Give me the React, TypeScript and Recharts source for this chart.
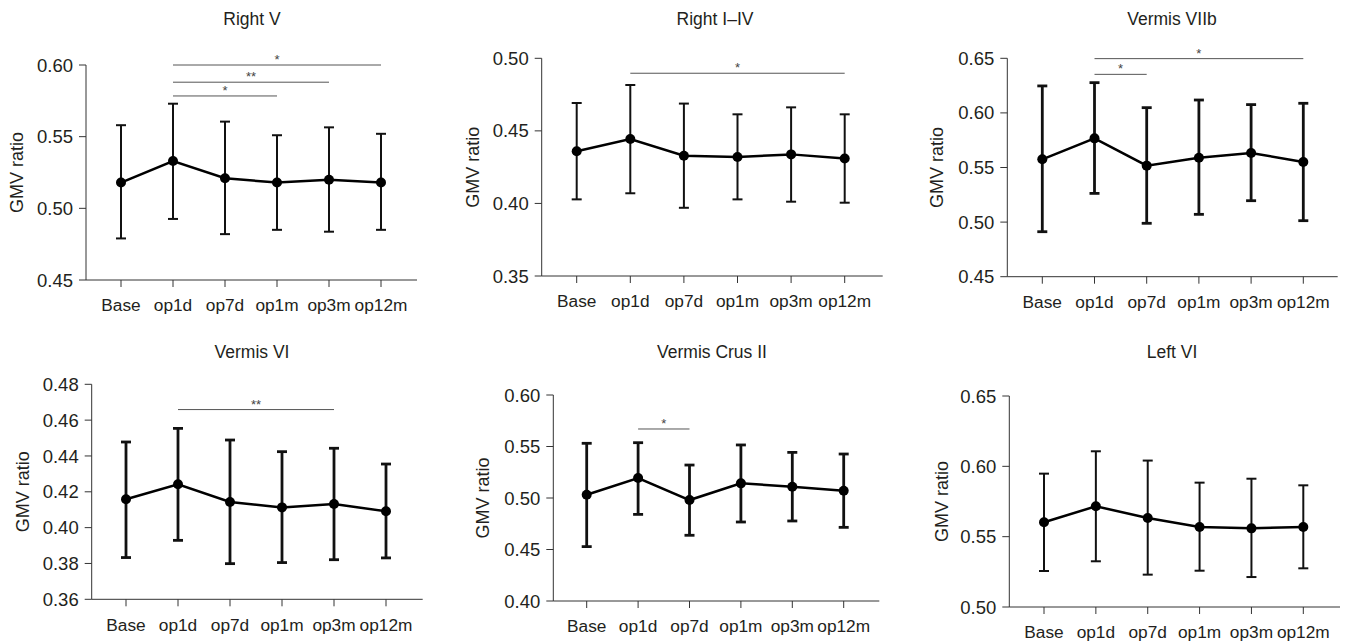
import { LineChart, Line, XAxis, YAxis, ErrorBar, ReferenceLine } from 'recharts';

const timepoints = ['Base', 'op1d', 'op7d', 'op1m', 'op3m', 'op12m'];

// Right V
const rightVMean = [0.518, 0.533, 0.521, 0.518, 0.52, 0.518];
const rightVHigh = [0.558, 0.573, 0.5605, 0.551, 0.5565, 0.552];
const rightVLow = [0.479, 0.4926, 0.482, 0.485, 0.4837, 0.485];
const rightVTicks = [0.45, 0.5, 0.55, 0.6];
const rightVSig = [
  { from: 'op1d', to: 'op12m', y: 0.6, mark: '*' },
  { from: 'op1d', to: 'op3m', y: 0.588, mark: '**' },
  { from: 'op1d', to: 'op1m', y: 0.5784, mark: '*' },
];

// Right I–IV
const rightIMean = [0.436, 0.4444, 0.4329, 0.432, 0.4338, 0.4309];
const rightIHigh = [0.4692, 0.4816, 0.4688, 0.4614, 0.4662, 0.4614];
const rightILow = [0.4028, 0.407, 0.397, 0.4028, 0.4012, 0.4005];
const rightITicks = [0.35, 0.4, 0.45, 0.5];
const rightISig = [{ from: 'op1d', to: 'op12m', y: 0.4897, mark: '*' }];

// Vermis VIIb
const vermisVIIbMean = [0.5575, 0.5767, 0.5517, 0.559, 0.5633, 0.555];
const vermisVIIbHigh = [0.6247, 0.6277, 0.6048, 0.6118, 0.6076, 0.6088];
const vermisVIIbLow = [0.4912, 0.5263, 0.4989, 0.5071, 0.5196, 0.5013];
const vermisVIIbTicks = [0.45, 0.5, 0.55, 0.6, 0.65];
const vermisVIIbSig = [
  { from: 'op1d', to: 'op12m', y: 0.6497, mark: '*' },
  { from: 'op1d', to: 'op7d', y: 0.6353, mark: '*' },
];

// Vermis VI
const vermisVIMean = [0.4158, 0.4242, 0.4143, 0.4113, 0.4132, 0.4091];
const vermisVIHigh = [0.4478, 0.4554, 0.4489, 0.4424, 0.4443, 0.4355];
const vermisVILow = [0.3833, 0.3929, 0.3799, 0.3805, 0.3821, 0.3831];
const vermisVITicks = [0.36, 0.38, 0.4, 0.42, 0.44, 0.46, 0.48];
const vermisVISig = [{ from: 'op1d', to: 'op3m', y: 0.4659, mark: '**' }];

// Vermis Crus II
const crusIIMean = [0.5032, 0.5194, 0.498, 0.5142, 0.511, 0.5071];
const crusIIHigh = [0.5531, 0.5537, 0.532, 0.5515, 0.5443, 0.5427];
const crusIILow = [0.4528, 0.4841, 0.4638, 0.4767, 0.4777, 0.4715];
const crusIITicks = [0.4, 0.45, 0.5, 0.55, 0.6];
const crusIISig = [{ from: 'op1d', to: 'op7d', y: 0.567, mark: '*' }];

// Left VI
const leftVIMean = [0.5602, 0.5716, 0.5633, 0.5569, 0.5559, 0.5569];
const leftVIHigh = [0.5948, 0.6107, 0.6041, 0.5884, 0.5912, 0.5865];
const leftVILow = [0.5256, 0.5325, 0.523, 0.5258, 0.5213, 0.5275];
const leftVITicks = [0.5, 0.55, 0.6, 0.65];
const leftVISig: { from: string; to: string; y: number; mark: string }[] = [];

const FONT = '"Liberation Sans", Arial, Helvetica, sans-serif';
const TEXT = '#231f20';
const AXIS = '#333';

type Sig = { from: string; to: string; y: number; mark: string };

interface PanelProps {
  title: string;
  mean: number[];
  high: number[];
  low: number[];
  ticks: number[];
  sig: Sig[];
  box: { x: number; y: number; w: number; h: number };
  plot: { left: number; right: number; top: number; bottom: number };
  pad: [number, number];
  labelX: number;
  titleX: number;
  titleY: number;
  barStroke: number;
}

function Panel(p: PanelProps) {
  const data = timepoints.map((t, i) => ({
    t,
    mean: p.mean[i],
    err: [p.mean[i] - p.low[i], p.high[i] - p.mean[i]],
  }));
  const marginLeft = p.labelX - p.box.x - 5;
  const yWidth = p.plot.left - p.box.x - marginLeft;
  const margin = {
    top: p.plot.top - p.box.y,
    right: p.box.x + p.box.w - p.plot.right,
    bottom: 0,
    left: marginLeft,
  };
  const xHeight = p.box.h - (p.plot.bottom - p.box.y);
  const domain = [p.ticks[0], p.ticks[p.ticks.length - 1]];

  return (
    <div style={{ position: 'absolute', left: p.box.x, top: p.box.y, width: p.box.w, height: p.box.h }}>
      <div
        style={{
          position: 'absolute',
          left: p.titleX - p.box.x,
          top: p.titleY - p.box.y,
          transform: 'translate(-50%, -50%)',
          fontFamily: FONT,
          fontSize: 17.5,
          lineHeight: 1,
          color: TEXT,
          whiteSpace: 'nowrap',
        }}
      >
        {p.title}
      </div>
      <LineChart width={p.box.w} height={p.box.h} data={data} margin={margin}>
        <XAxis
          dataKey="t"
          height={xHeight}
          padding={{ left: p.pad[0], right: p.pad[1] }}
          tickSize={7}
          tickMargin={12}
          stroke={AXIS}
          tick={{ fill: TEXT, fontSize: 17.3, fontFamily: FONT }}
          interval={0}
        />
        <YAxis
          width={yWidth}
          domain={domain}
          ticks={p.ticks}
          type="number"
          tickSize={7}
          tickMargin={6}
          stroke={AXIS}
          tickFormatter={(v: number) => v.toFixed(2)}
          tick={{ fill: TEXT, fontSize: 18.5, fontFamily: FONT }}
          label={{
            value: 'GMV ratio',
            angle: -90,
            position: 'insideLeft',
            offset: 5,
            style: { textAnchor: 'middle', fill: TEXT, fontSize: 18, fontFamily: FONT },
          }}
        />
        {p.sig.map((s, i) => (
          <ReferenceLine
            key={i}
            segment={[
              { x: s.from, y: s.y },
              { x: s.to, y: s.y },
            ]}
            stroke="#555"
            strokeWidth={1}
            ifOverflow="visible"
            label={{ value: s.mark, position: 'top', offset: 1, fill: '#444', fontSize: 13, fontFamily: FONT }}
          />
        ))}
        <Line
          dataKey="mean"
          stroke="#000"
          strokeWidth={2.5}
          dot={{ r: 5, fill: '#000', stroke: '#000', strokeWidth: 0 }}
          isAnimationActive={false}
        >
          <ErrorBar dataKey="err" direction="y" width={5} stroke="#111" strokeWidth={p.barStroke} isAnimationActive={false} />
        </Line>
      </LineChart>
    </div>
  );
}

export default function App() {
  return (
    <div style={{ position: 'absolute', left: 0, top: 0, width: 1349, height: 643, background: '#fff' }}>
      <Panel
        title="Right V"
        mean={rightVMean}
        high={rightVHigh}
        low={rightVLow}
        ticks={rightVTicks}
        sig={rightVSig}
        box={{ x: 0, y: 0, w: 450, h: 320 }}
        plot={{ left: 86, right: 417, top: 65, bottom: 280 }}
        pad={[35, 36]}
        labelX={17}
        titleX={252}
        titleY={20}
        barStroke={2}
      />
      <Panel
        title="Right I–IV"
        mean={rightIMean}
        high={rightIHigh}
        low={rightILow}
        ticks={rightITicks}
        sig={rightISig}
        box={{ x: 450, y: 0, w: 450, h: 320 }}
        plot={{ left: 541.7, right: 882.7, top: 58.3, bottom: 276 }}
        pad={[35, 38]}
        labelX={472.7}
        titleX={715}
        titleY={20}
        barStroke={2}
      />
      <Panel
        title="Vermis VIIb"
        mean={vermisVIIbMean}
        high={vermisVIIbHigh}
        low={vermisVIIbLow}
        ticks={vermisVIIbTicks}
        sig={vermisVIIbSig}
        box={{ x: 900, y: 0, w: 449, h: 320 }}
        plot={{ left: 1007.3, right: 1337.7, top: 58.3, bottom: 276.7 }}
        pad={[35, 34.4]}
        labelX={936.7}
        titleX={1172}
        titleY={20}
        barStroke={2.8}
      />
      <Panel
        title="Vermis VI"
        mean={vermisVIMean}
        high={vermisVIHigh}
        low={vermisVILow}
        ticks={vermisVITicks}
        sig={vermisVISig}
        box={{ x: 0, y: 320, w: 450, h: 323 }}
        plot={{ left: 91.7, right: 422.7, top: 384.3, bottom: 599.3 }}
        pad={[34.3, 36.7]}
        labelX={23}
        titleX={252}
        titleY={353}
        barStroke={2.8}
      />
      <Panel
        title="Vermis Crus II"
        mean={crusIIMean}
        high={crusIIHigh}
        low={crusIILow}
        ticks={crusIITicks}
        sig={crusIISig}
        box={{ x: 450, y: 320, w: 450, h: 323 }}
        plot={{ left: 553.3, right: 879.3, top: 395, bottom: 601 }}
        pad={[33.4, 35.6]}
        labelX={483}
        titleX={712}
        titleY={353}
        barStroke={2.8}
      />
      <Panel
        title="Left VI"
        mean={leftVIMean}
        high={leftVIHigh}
        low={leftVILow}
        ticks={leftVITicks}
        sig={leftVISig}
        box={{ x: 900, y: 320, w: 449, h: 323 }}
        plot={{ left: 1009.3, right: 1340, top: 396, bottom: 607 }}
        pad={[34.7, 36.7]}
        labelX={941.7}
        titleX={1172}
        titleY={353}
        barStroke={2}
      />
    </div>
  );
}
